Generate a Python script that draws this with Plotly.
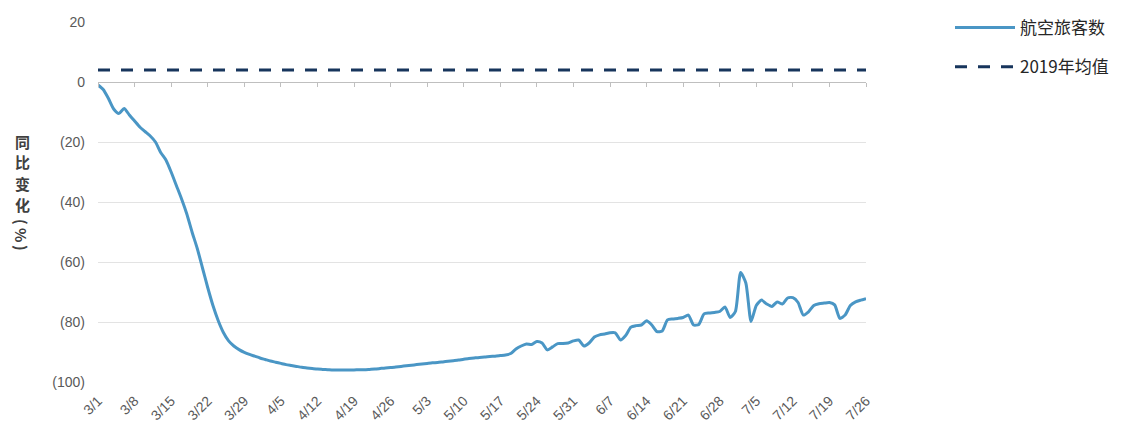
import datetime as dt
import plotly.graph_objects as go

# Daily year-over-year change in air passenger numbers (%), 2020-03-01 .. 2020-07-26
START_DATE = "2020-03-01"
PASSENGER_YOY = [
    -1, -2.5, -5.5, -9, -10.5, -8.8, -11, -13, -15, -16.5,
    -18, -20, -23.5, -26, -30, -34.5, -39, -44, -50, -55.5,
    -62, -68.5, -74.5, -79.5, -83.5, -86.3, -88, -89.2, -90.1, -90.8,
    -91.4, -92, -92.5, -93, -93.4, -93.8, -94.2, -94.5, -94.8, -95.1,
    -95.3, -95.5, -95.7, -95.8, -95.9, -96, -96, -96, -96, -96,
    -95.9, -95.9, -95.8, -95.7, -95.5, -95.3, -95.2, -95, -94.8, -94.6,
    -94.4, -94.2, -94, -93.8, -93.6, -93.5, -93.3, -93.1, -92.9, -92.7,
    -92.4, -92.2, -92, -91.8, -91.7, -91.5, -91.4, -91.2, -91, -90.5,
    -89, -88, -87.3, -87.5, -86.5, -87, -89.3, -88.3, -87.2, -87.2,
    -87, -86.3, -86, -88, -87, -85, -84.3, -84, -83.6, -83.6,
    -86, -84.5, -81.7, -81.2, -81, -79.6, -81, -83.2, -83, -79.3,
    -79, -78.8, -78.5, -77.7, -81, -80.8, -77.3, -77, -76.8, -76.5,
    -75, -78.5, -76.5, -63.5, -67, -79.8, -74.5, -72.7, -74, -74.8,
    -73.3, -74, -72, -71.9, -73.5, -77.7, -76.6, -74.5, -73.9, -73.7,
    -73.5, -74.3, -78.8, -77.7, -74.5, -73.3, -72.7, -72.2,
]
AVG_2019 = 4

SERIES_NAME = "航空旅客数"
AVG_NAME = "2019年均值"

X_TICK_LABELS = ["3/1", "3/8", "3/15", "3/22", "3/29", "4/5", "4/12", "4/19",
                 "4/26", "5/3", "5/10", "5/17", "5/24", "5/31", "6/7", "6/14",
                 "6/21", "6/28", "7/5", "7/12", "7/19", "7/26"]
Y_TICK_VALUES = [20, 0, -20, -40, -60, -80, -100]
Y_TICK_LABELS = ["20", "0", "(20)", "(40)", "(60)", "(80)", "(100)"]
# y-axis title written top-to-bottom: (character, rotation)
Y_TITLE_CHARS = [("同", 0), ("比", 0), ("变", 0), ("化", 0), ("(", 90), ("%", 90), (")", 90)]

start = dt.date.fromisoformat(START_DATE)
dates = [start + dt.timedelta(days=i) for i in range(len(PASSENGER_YOY))]
tick_dates = [start + dt.timedelta(days=7 * i) for i in range(len(X_TICK_LABELS))]
x_range = [dates[0], dates[-1]]

NUM_FONT = "Liberation Sans, Arial, sans-serif"
CJK_FONT = "Noto Sans CJK SC, sans-serif"

W, H = 1134, 428
M_L, M_R, M_T, M_B = 98, 268, 22, 46
PLOT_H = H - M_T - M_B

fig = go.Figure()

fig.add_trace(go.Scatter(
    x=dates, y=PASSENGER_YOY, name=SERIES_NAME, mode="lines",
    line=dict(color="#4a96c5", width=3, shape="spline", smoothing=0.6),
    legendgroup="a", hoverinfo="x+y",
))
fig.add_trace(go.Scatter(
    x=dates, y=[AVG_2019] * len(dates), name=AVG_NAME, mode="lines",
    xaxis="x2",
    line=dict(color="#17355c", width=3, dash="12px,11px"),
    legendgroup="b",
))

fig.update_layout(
    width=W, height=H,
    margin=dict(l=M_L, r=M_R, t=M_T, b=M_B, autoexpand=False),
    paper_bgcolor="white", plot_bgcolor="white",
    font=dict(family=NUM_FONT, color="#595959"),
    xaxis=dict(
        range=x_range, showgrid=False, zeroline=False, showline=False,
        tickmode="array", tickvals=tick_dates, ticktext=X_TICK_LABELS,
        tickangle=-45, tickfont=dict(size=14, color="#595959"),
        ticks="", ticklabelstandoff=7, automargin=False,
    ),
    xaxis2=dict(
        overlaying="x", anchor="free", position=100 / 120,
        range=x_range, showgrid=False, zeroline=False,
        showline=True, linecolor="#bfbfbf", linewidth=1,
        tickmode="array", tickvals=tick_dates, ticks="outside",
        ticklen=4, tickcolor="#bfbfbf", showticklabels=False,
    ),
    yaxis=dict(
        range=[-100, 20], showgrid=True, gridcolor="#e3e3e3", gridwidth=1,
        zeroline=False, showline=False, automargin=False,
        tickmode="array", tickvals=Y_TICK_VALUES, ticktext=Y_TICK_LABELS,
        tickfont=dict(size=14, color="#595959"), ticks="", ticklabelstandoff=12,
    ),
    legend=dict(
        xref="container", yref="container",
        x=950 / W, y=1 - 10 / H, xanchor="left", yanchor="top",
        font=dict(family=CJK_FONT, size=17, color="#262626"),
        traceorder="grouped", tracegroupgap=14, itemwidth=60,
        bgcolor="rgba(0,0,0,0)",
    ),
    showlegend=True,
)

# Vertical (stacked) y-axis title, one glyph per annotation
title_y_px = [141, 162, 183, 204, 222, 235, 248]
for (ch, angle), py in zip(Y_TITLE_CHARS, title_y_px):
    fig.add_annotation(
        xref="paper", yref="paper",
        x=(22 - M_L) / (W - M_L - M_R), y=(H - M_B - py) / PLOT_H,
        xanchor="center", yanchor="middle",
        text="<b>" + ch + "</b>", showarrow=False, textangle=angle,
        font=dict(family=CJK_FONT, size=15, color="#404040"),
    )

fig.write_html("out.html")
